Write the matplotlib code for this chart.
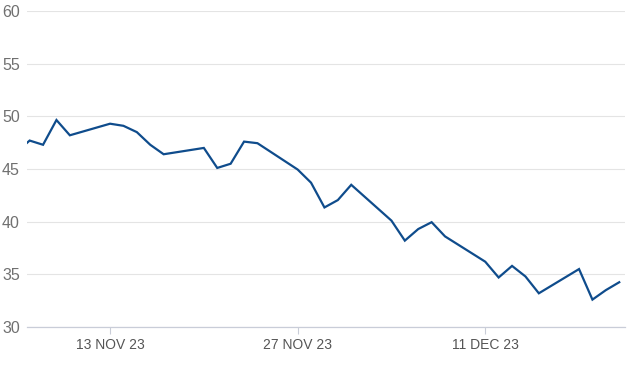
import numpy as np
import pandas as pd
import matplotlib
matplotlib.use("Agg")
from matplotlib import pyplot as plt

# trading days and closing values
dates = pd.to_datetime([
    "2023-11-06", "2023-11-07", "2023-11-08", "2023-11-09", "2023-11-10",
    "2023-11-13", "2023-11-14", "2023-11-15", "2023-11-16", "2023-11-17",
    "2023-11-20", "2023-11-21", "2023-11-22", "2023-11-23", "2023-11-24",
    "2023-11-27", "2023-11-28", "2023-11-29", "2023-11-30", "2023-12-01",
    "2023-12-04", "2023-12-05", "2023-12-06", "2023-12-07", "2023-12-08",
    "2023-12-11", "2023-12-12", "2023-12-13", "2023-12-14", "2023-12-15",
    "2023-12-18", "2023-12-19", "2023-12-20", "2023-12-21",
])
values = [
    46.6, 47.7, 47.3, 49.65, 48.2,
    49.3, 49.1, 48.5, 47.3, 46.4,
    47.0, 45.1, 45.5, 47.6, 47.45,
    44.95, 43.7, 41.35, 42.05, 43.5,
    40.1, 38.2, 39.3, 39.95, 38.6,
    36.2, 34.7, 35.8, 34.8, 33.2,
    35.5, 32.6, 33.5, 34.25,
]
tick_dates = pd.to_datetime(["2023-11-13", "2023-11-27", "2023-12-11"])
tick_labels = ["13 NOV 23", "27 NOV 23", "11 DEC 23"]
yticks = [30, 35, 40, 45, 50, 55, 60]

plt.rcParams['font.family'] = ['Liberation Sans', 'DejaVu Sans']

fig = plt.figure(figsize=(6.27, 3.68), dpi=100)
ax = fig.add_axes([26.7 / 627, 1 - 327 / 368, (625 - 26.7) / 627, (327 - 11) / 368])

ax.plot(dates, values, color="#0f4c8c", lw=1.6, solid_joinstyle="miter", zorder=3)

left = pd.Timestamp("2023-11-06") + pd.Timedelta(hours=0.78 * 24)
right = pd.Timestamp("2023-12-21") + pd.Timedelta(hours=0.43 * 24)
ax.set_xlim(left, right)
ax.set_ylim(30, 60)

ax.set_yticks(yticks)
ax.set_yticklabels([str(v) for v in yticks])
ax.set_xticks(tick_dates)
ax.set_xticklabels(tick_labels)

for s in ["top", "right", "left"]:
    ax.spines[s].set_visible(False)
ax.spines["bottom"].set_color("#c9cdd8")
ax.spines["bottom"].set_linewidth(0.9)

ax.grid(axis="y", color="#e4e4e4", lw=0.8)
ax.set_axisbelow(True)

ax.tick_params(axis="y", length=0, pad=5, labelsize=11.5, labelcolor="#707070")
ax.tick_params(axis="x", length=5, color="#c9cdd8", width=0.8, pad=3,
               labelsize=10, labelcolor="#555555")

fig.savefig("out.png", dpi=100)
